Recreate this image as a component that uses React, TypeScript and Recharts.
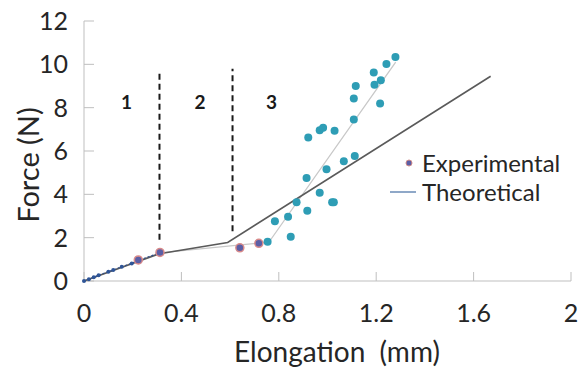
import { Legend, ReferenceLine, Scatter, ScatterChart, XAxis, YAxis } from 'recharts';

const xTicks = [0, 0.4, 0.8, 1.2, 1.6, 2];
const yTicks = [0, 2, 4, 6, 8, 10, 12];

// stage 1 small markers (dotted trace)
const earlyPoints = [
  { x: 0.0, y: 0.0 },
  { x: 0.02, y: 0.08 },
  { x: 0.04, y: 0.17 },
  { x: 0.06, y: 0.27 },
  { x: 0.1, y: 0.43 },
  { x: 0.12, y: 0.51 },
  { x: 0.155, y: 0.66 },
  { x: 0.196, y: 0.81 },
  { x: 0.225, y: 0.96 },
  { x: 0.312, y: 1.3 },
];

const experimentalPoints = [
  { x: 0.223, y: 0.97 },
  { x: 0.312, y: 1.32 },
  { x: 0.64, y: 1.53 },
  { x: 0.718, y: 1.74 },
];

const stage3Points = [
  { x: 0.754, y: 1.81 },
  { x: 0.784, y: 2.76 },
  { x: 0.838, y: 2.96 },
  { x: 0.849, y: 2.04 },
  { x: 0.873, y: 3.63 },
  { x: 0.917, y: 3.24 },
  { x: 0.914, y: 4.75 },
  { x: 0.921, y: 6.62 },
  { x: 0.968, y: 4.07 },
  { x: 0.968, y: 6.96 },
  { x: 0.982, y: 7.07 },
  { x: 0.996, y: 5.16 },
  { x: 1.019, y: 3.63 },
  { x: 1.026, y: 3.63 },
  { x: 1.029, y: 6.93 },
  { x: 1.067, y: 5.53 },
  { x: 1.112, y: 5.77 },
  { x: 1.108, y: 7.45 },
  { x: 1.108, y: 8.42 },
  { x: 1.116, y: 9.0 },
  { x: 1.19, y: 9.62 },
  { x: 1.193, y: 9.06 },
  { x: 1.219, y: 9.26 },
  { x: 1.216, y: 8.19 },
  { x: 1.242, y: 10.01 },
  { x: 1.279, y: 10.34 },
];

const theoreticalDark = [
  { x: 0, y: 0 },
  { x: 0.31, y: 1.26 },
  { x: 0.59, y: 1.78 },
  { x: 1.67, y: 9.45 },
];

const theoreticalLight = [
  { x: 0, y: 0 },
  { x: 0.31, y: 1.3 },
  { x: 0.76, y: 1.8 },
  { x: 1.28, y: 10.1 },
];

const boundaries = [
  { x: 0.31, from: 1.9, to: 9.6 },
  { x: 0.61, from: 2.3, to: 9.8 },
];

const regionLabels = [
  { x: 0.175, y: 8.3, name: '1' },
  { x: 0.476, y: 8.3, name: '2' },
  { x: 0.77, y: 8.3, name: '3' },
];

const font = 'Lato, "Noto Sans", sans-serif';
const textColor = '#262626';
const axisColor = '#bfbfbf';

const hidden = () => <g />;

function ChartLegend() {
  return (
    <div style={{ position: 'absolute', left: 388, top: 148, fontFamily: font, fontSize: 24, color: textColor, lineHeight: '29px' }}>
      <div style={{ display: 'flex', alignItems: 'center' }}>
        <svg width={34} height={29}>
          <circle cx={21} cy={15} r={3} fill="#5b5fa6" stroke="#d08a8a" strokeWidth={1} />
        </svg>
        <span>Experimental</span>
      </div>
      <div style={{ display: 'flex', alignItems: 'center' }}>
        <svg width={34} height={29}>
          <line x1={2} x2={28} y1={15} y2={15} stroke="#8fa8c8" strokeWidth={2} />
        </svg>
        <span>Theoretical</span>
      </div>
    </div>
  );
}

export default function App() {
  return (
    <div style={{ width: 581, height: 372, background: '#fff' }}>
      <style>{'body{margin:0}'}</style>
      <ScatterChart width={581} height={372} margin={{ top: 21, right: 10, left: 0, bottom: 0 }}>
        <XAxis
          type="number"
          dataKey="x"
          domain={[0, 2]}
          ticks={xTicks}
          height={91}
          stroke={axisColor}
          tickSize={-9}
          tickMargin={32}
          tick={{ fill: textColor, fontSize: 25, fontFamily: font }}
          label={() => (
            <text x={337} y={362} textAnchor="middle" fill={textColor} fontSize={28} fontFamily={font}>
              {'Elongation\u00a0\u00a0(mm)'}
            </text>
          )}
        />
        <YAxis
          type="number"
          dataKey="y"
          domain={[0, 12]}
          ticks={yTicks}
          width={84}
          stroke={axisColor}
          tickSize={-10}
          tickMargin={26}
          tick={{ fill: textColor, fontSize: 25, fontFamily: font }}
          label={() => (
            <text x={27} y={165} transform="rotate(-90 27 165)" textAnchor="middle" dominantBaseline="central" fill={textColor} fontSize={29} fontFamily={font}>
              Force (N)
            </text>
          )}
        />
        {boundaries.map((b) => (
          <ReferenceLine
            key={b.x}
            segment={[{ x: b.x, y: b.from }, { x: b.x, y: b.to }]}
            stroke="#1a1a1a"
            strokeWidth={2}
            strokeDasharray="6 4"
          />
        ))}
        <Scatter
          data={theoreticalLight}
          line={{ stroke: '#c8c8c8', strokeWidth: 1.3 }}
          shape={hidden}
          isAnimationActive={false}
        />
        <Scatter
          data={theoreticalDark}
          line={{ stroke: '#5a5a5a', strokeWidth: 1.6 }}
          shape={hidden}
          isAnimationActive={false}
        />
        <Scatter
          data={earlyPoints}
          line={{ stroke: '#2f4f8f', strokeWidth: 1.2, strokeDasharray: '2 2' }}
          shape={(p: any) => <circle cx={p.cx} cy={p.cy} r={2} fill="#2f5597" />}
          isAnimationActive={false}
        />
        <Scatter
          data={experimentalPoints}
          shape={(p: any) => <circle cx={p.cx} cy={p.cy} r={4} fill="#5b5fa6" stroke="#d88a8a" strokeWidth={1.5} />}
          isAnimationActive={false}
        />
        <Scatter
          data={stage3Points}
          shape={(p: any) => <circle cx={p.cx} cy={p.cy} r={4} fill="#2e9db5" />}
          isAnimationActive={false}
        />
        <Scatter
          data={regionLabels}
          shape={(p: any) => (
            <text x={p.cx} y={p.cy} textAnchor="middle" dominantBaseline="central" fontSize={19} fontWeight="bold" fontFamily={font} fill="#1a1a1a">
              {p.payload.name}
            </text>
          )}
          isAnimationActive={false}
        />
        <Legend layout="horizontal" verticalAlign="middle" align="center" wrapperStyle={{ left: 0, top: 0 }} content={() => <ChartLegend />} />
      </ScatterChart>
    </div>
  );
}
